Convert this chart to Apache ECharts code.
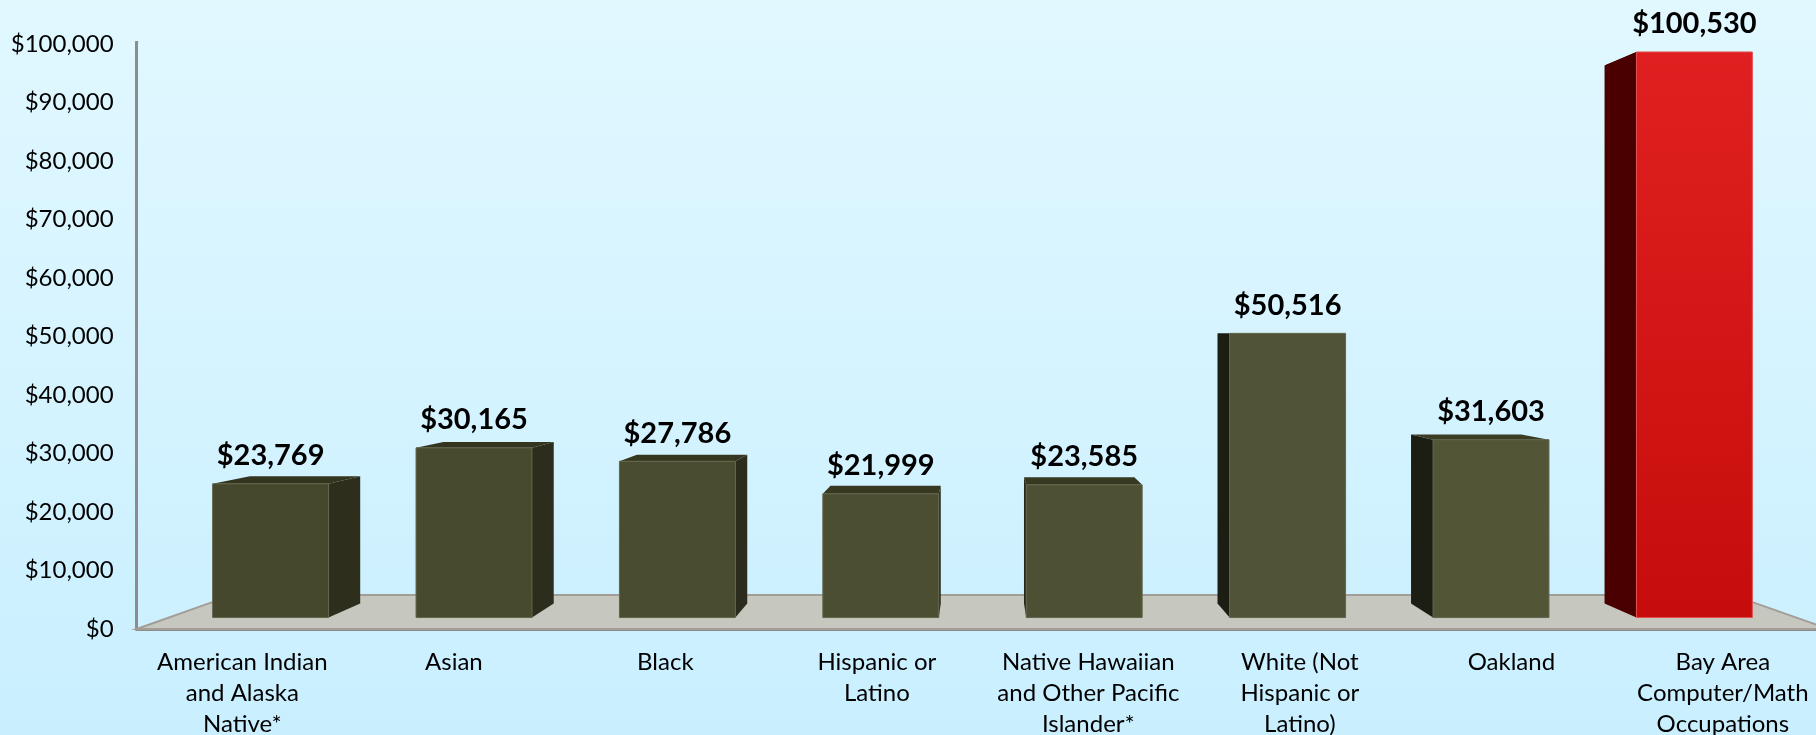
<!DOCTYPE html>
<html><head><meta charset="utf-8">
<style>html,body{margin:0;padding:0;width:1816px;height:735px;overflow:hidden}#c{width:1816px;height:735px}</style>
<script src="https://cdn.jsdelivr.net/npm/echarts@6/dist/echarts.min.js"></script>
</head><body><div id="c"></div>
<script>
const categories = ['American Indian\nand Alaska\nNative*','Asian','Black','Hispanic or\nLatino','Native Hawaiian\nand Other Pacific\nIslander*','White (Not\nHispanic or\nLatino)','Oakland','Bay Area\nComputer/Math\nOccupations'];
const values = [23769,30165,27786,21999,23585,50516,31603,100530];
const frontColors = ['#45482c','#474a2d','#4a4c2f','#4b4e31','#4d5033','#505335','#525536','red'];
const sideColors = ['#2d2e1c','#2c2d1c','#2b2c1b','#2a2b1a','#282a1a','#1c1e13','#1c1e13','#4a0000'];
const topColors = ['#33351f','#33351f','#35371f','#363820','#363820','#3a3c24','#3a3c24','#4a0000'];

const FONT = 'Lato';
const VP = [980, 330], S_FRONT = 0.9617, S_BACK = 0.915, S_FLOOR = 0.886, BAR_W = 0.57;
const proj = (p, s) => [VP[0] + s * (p[0] - VP[0]), VP[1] + s * (p[1] - VP[1])];
const fmt = v => '$' + v.toLocaleString('en-US');

function renderFloor(params, api) {
  const g = params.coordSys, b = g.y + g.height, l = g.x, r = g.x + g.width;
  const pts = [[l, b], proj([l, b], S_FLOOR), proj([r, b], S_FLOOR), [r, b]];
  return {type:'group', children:[
    {type:'polygon', shape:{points:pts}, style:{fill:'#c6c8c0', stroke:'#a39d97', lineWidth:2}},
    {type:'line', shape:{x1:l, y1:g.y, x2:l, y2:g.y-3}, style:{stroke:'#8c8c8c', lineWidth:3}}
  ]};
}
function renderBar(params, api) {
  const i = api.value(0), v = api.value(1);
  const c = api.coord([i, v]), c0 = api.coord([i, 0]), w = api.size([1, 0])[0] * BAR_W;
  const L = c[0] - w / 2, R = c[0] + w / 2;
  const f = (x, y) => proj([x, y], S_FRONT), k = (x, y) => proj([x, y], S_BACK);
  const fTL = f(L, c[1]), fTR = f(R, c[1]), fBL = f(L, c0[1]), fBR = f(R, c0[1]);
  const bTL = k(L, c[1]), bTR = k(R, c[1]), bBL = k(L, c0[1]), bBR = k(R, c0[1]);
  const children = [];
  if (fTL[0] > VP[0]) {
    children.push({type:'polygon', shape:{points:[fTL, bTL, bBL, fBL]}, style:{fill:sideColors[i]}});
  } else {
    children.push({type:'polygon', shape:{points:[fTR, bTR, bBR, fBR]}, style:{fill:sideColors[i]}});
  }
  children.push({type:'polygon', shape:{points:[fTL, bTL, bTR, fTR]}, style:{fill:topColors[i]}});
  const fill = frontColors[i] === 'red'
    ? new echarts.graphic.LinearGradient(0,0,0,1,[{offset:0,color:'#e02020'},{offset:1,color:'#c60d0b'}])
    : frontColors[i];
  children.push({type:'polygon', shape:{points:[fTL, fTR, fBR, fBL]},
    style:{fill, stroke: frontColors[i]==='red' ? '#e2504f' : '#62654b', lineWidth:1}});
  children.push({type:'text', style:{text:fmt(v), x:(fTL[0]+fTR[0])/2, y:fTL[1]-28, align:'center', verticalAlign:'middle',
    font:'bold 29px '+FONT, fill:'#000'}});
  return {type:'group', children};
}

const chart = echarts.init(document.getElementById('c'), null, {renderer:'canvas'});
chart.setOption({
  animation:false,
  backgroundColor:new echarts.graphic.LinearGradient(0,0,0,1,[{offset:0,color:'#e1f8ff'},{offset:1,color:'#c9efff'}]),
  grid:{left:136.6, top:44, width:1692, height:585, containLabel:false, outerBoundsMode:'none'},
  xAxis:{type:'category', data:categories, boundaryGap:true,
    axisLine:{lineStyle:{color:'#8c8c8c', width:3}}, axisTick:{show:false},
    axisLabel:{interval:0, color:'#000', fontFamily:FONT, fontSize:24, lineHeight:31, margin:18}},
  yAxis:{type:'value', min:0, max:100000, interval:10000,
    axisLine:{show:true, lineStyle:{color:'#8c8c8c', width:3}}, axisTick:{show:false}, splitLine:{show:false},
    axisLabel:{color:'#000', fontFamily:FONT, fontSize:24, margin:23, formatter:v=>fmt(v)}},
  series:[
    {type:'custom', name:'floor', renderItem:renderFloor, data:[[0,0]], clip:false, silent:true, z:1, encode:{x:0,y:1}},
    {type:'custom', name:'Median income', renderItem:renderBar, data:values.map((v,i)=>[i,v]), clip:false, z:3, encode:{x:0,y:1}}
  ]
});
</script></body></html>
